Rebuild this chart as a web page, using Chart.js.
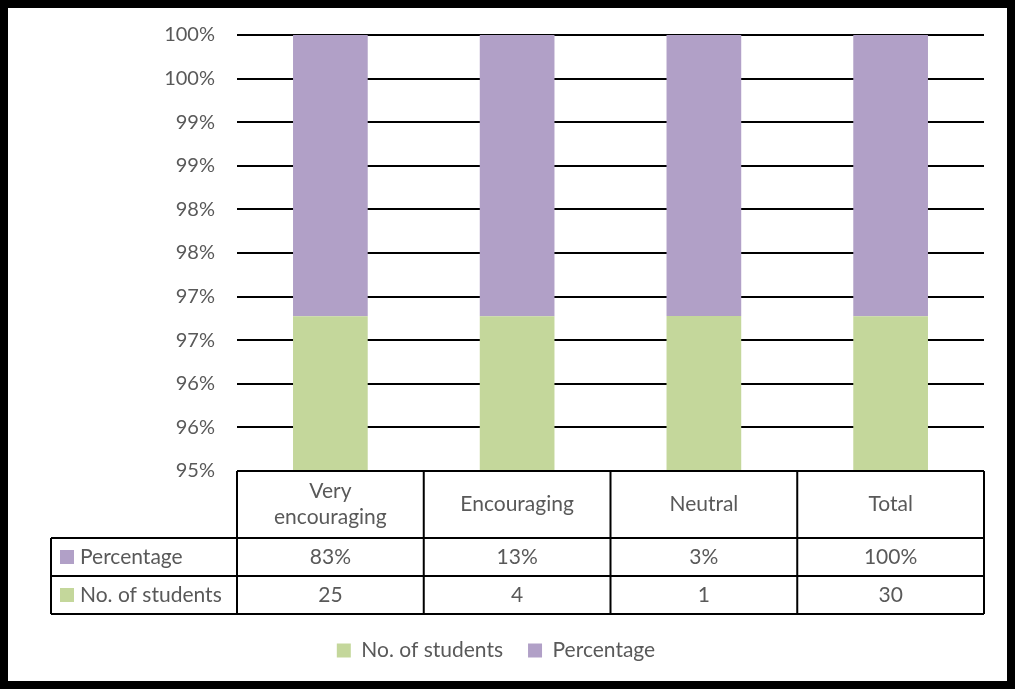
<!DOCTYPE html>
<html lang="en">
<head>
  <meta charset="UTF-8" />
  <title>Students chart</title>
  <script src="https://cdn.jsdelivr.net/npm/chart.js@4.4.0/dist/chart.umd.min.js"></script>
  <style>
    body { margin: 0; background: #fff; }
    .frame {
      width: 1015px;
      height: 689px;
      box-sizing: border-box;
      border: 8px solid #000;
      background: #fff;
    }
    .frame canvas { display: block; }
  </style>
</head>
<body>
  <div class="frame">
    <canvas id="chart" width="999" height="673"></canvas>
  </div>

  <script>
    // data
    const categories = [['Very', 'encouraging'], 'Encouraging', 'Neutral', 'Total'];
    const students = [25, 4, 1, 30];
    const percentage = [0.8333, 0.1333, 0.0333, 1.00];
    const tickLabels = ['95%', '96%', '96%', '97%', '97%', '98%', '98%', '99%', '99%', '100%', '100%'];

    const green = '#C4D79B';
    const purple = '#B1A0C7';
    const textColor = '#595959';
    const fontFamily = 'Lato, "Noto Sans", sans-serif';

    // 100% stacked: each series as share of the column total
    const totals = students.map((s, i) => s + percentage[i]);
    const studentShare = students.map((s, i) => s / totals[i] * 100);
    const pctShare = percentage.map((p, i) => p / totals[i] * 100);

    // data table drawn under the plot, lined up with the x scale
    const dataTable = {
      id: 'dataTable',
      afterDraw(chart) {
        const ctx = chart.ctx;
        const area = chart.chartArea;
        const xs = chart.scales.x;
        const colW = (area.right - area.left) / categories.length;
        const top = area.bottom;
        const headH = 67;
        const rowH = 38;
        const leftEdge = 43;
        const rows = [
          { label: 'Percentage', color: purple, values: percentage.map(v => Math.round(v * 100) + '%') },
          { label: 'No. of students', color: green, values: students.map(v => String(v)) }
        ];

        ctx.save();
        ctx.strokeStyle = '#000';
        ctx.lineWidth = 2;
        ctx.beginPath();
        // header row
        ctx.moveTo(area.left, top);
        ctx.lineTo(area.right, top);
        for (let i = 0; i <= categories.length; i++) {
          const x = area.left + i * colW;
          ctx.moveTo(x, top);
          ctx.lineTo(x, top + headH + rowH * rows.length);
        }
        for (let r = 0; r <= rows.length; r++) {
          const y = top + headH + r * rowH;
          ctx.moveTo(leftEdge, y);
          ctx.lineTo(area.right, y);
        }
        ctx.moveTo(leftEdge, top + headH);
        ctx.lineTo(leftEdge, top + headH + rowH * rows.length);
        ctx.stroke();

        ctx.font = '21px ' + fontFamily;
        ctx.fillStyle = textColor;
        ctx.textAlign = 'center';
        ctx.textBaseline = 'middle';
        categories.forEach((c, i) => {
          const cx = xs.getPixelForValue(i);
          const lines = Array.isArray(c) ? c : [c];
          const lh = 26;
          const y0 = top + headH / 2 - (lines.length - 1) * lh / 2;
          lines.forEach((t, k) => ctx.fillText(t, cx, y0 + k * lh));
        });

        rows.forEach((row, r) => {
          const cy = top + headH + r * rowH + rowH / 2;
          ctx.fillStyle = row.color;
          ctx.fillRect(leftEdge + 9, cy - 7, 14, 14);
          ctx.fillStyle = textColor;
          ctx.textAlign = 'left';
          ctx.fillText(row.label, leftEdge + 29, cy);
          ctx.textAlign = 'center';
          row.values.forEach((v, i) => ctx.fillText(v, xs.getPixelForValue(i), cy));
        });
        ctx.restore();
      }
    };

    new Chart(document.getElementById('chart'), {
      type: 'bar',
      data: {
        labels: categories,
        datasets: [
          { label: 'No. of students', data: studentShare, backgroundColor: green },
          { label: 'Percentage', data: pctShare, backgroundColor: purple }
        ]
      },
      options: {
        responsive: false,
        animation: false,
        layout: { padding: { top: 27, right: 23, bottom: 10, left: 0 } },
        datasets: { bar: { barPercentage: 1, categoryPercentage: 0.4 } },
        plugins: {
          tooltip: { enabled: false },
          legend: {
            position: 'bottom',
            labels: {
              boxWidth: 14,
              boxHeight: 14,
              padding: 25,
              color: textColor,
              font: { family: fontFamily, size: 21 }
            }
          }
        },
        scales: {
          x: {
            stacked: true,
            grid: { display: false },
            border: { display: false },
            ticks: { display: false },
            afterFit: s => { s.height = 144; }
          },
          y: {
            stacked: true,
            min: 95,
            max: 100,
            border: { display: false },
            grid: { color: '#000', lineWidth: 2, drawTicks: true, tickLength: 22, tickColor: 'rgba(0,0,0,0)' },
            ticks: {
              stepSize: 0.5,
              padding: 0,
              color: textColor,
              font: { family: fontFamily, size: 20 },
              callback: (v, i) => tickLabels[i]
            },
            afterFit: s => { s.width = 229; }
          }
        }
      },
      plugins: [dataTable]
    });
  </script>
</body>
</html>
